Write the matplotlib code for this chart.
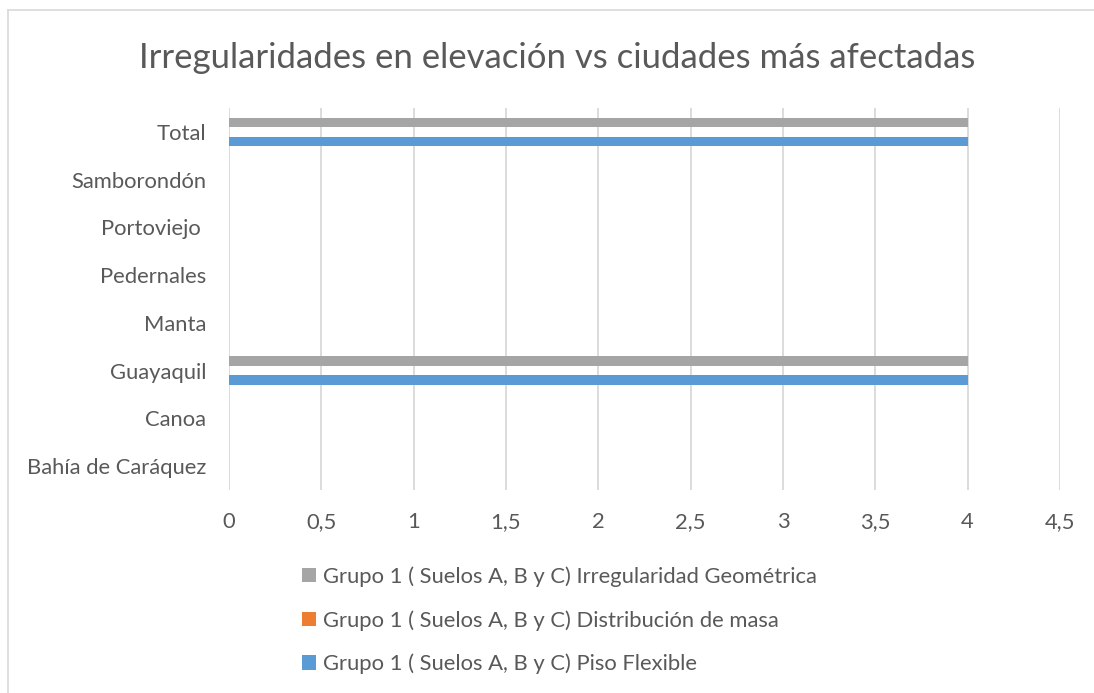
import matplotlib.pyplot as plt
import numpy as np
from matplotlib.patches import Patch

# Ciudades (de abajo hacia arriba) y valores por serie
ciudades = ['Bahía de Caráquez', 'Canoa', 'Guayaquil', 'Manta',
            'Pedernales', 'Portoviejo ', 'Samborondón', 'Total']
piso_flexible = [0, 0, 4, 0, 0, 0, 0, 4]
distribucion_masa = [0, 0, 0, 0, 0, 0, 0, 0]
irregularidad_geom = [0, 0, 4, 0, 0, 0, 0, 4]

series = ['Grupo 1 ( Suelos A, B y C) Piso Flexible',
          'Grupo 1 ( Suelos A, B y C) Distribución de masa',
          'Grupo 1 ( Suelos A, B y C) Irregularidad Geométrica']
colores = ['#5b9bd5', '#ed7d31', '#a5a5a5']
ticks_x = [0, 0.5, 1, 1.5, 2, 2.5, 3, 3.5, 4, 4.5]

plt.rcParams['font.family'] = ['Lato', 'DejaVu Sans']
texto = '#595959'

fig = plt.figure(figsize=(10.94, 6.93), dpi=100)
ax = fig.add_axes([0.2093, 0.2929, 0.7596, 0.5512])

y = np.arange(len(ciudades))
alto = 0.2
for i, (vals, nombre, c) in enumerate(zip([piso_flexible, distribucion_masa, irregularidad_geom], series, colores)):
    ax.barh(y + (i - 1) * alto, vals, height=alto, color=c, label=nombre, zorder=3)

ax.set_xlim(0, 4.5)
ax.set_ylim(-0.5, len(ciudades) - 0.5)
ax.set_yticks(y)
ax.set_yticklabels(ciudades, fontsize=15.8, color=texto)
ax.set_xticks(ticks_x)
ax.set_xticklabels([f'{t:g}'.replace('.', ',') for t in ticks_x], fontsize=15.8, color=texto)
ax.tick_params(length=0)
ax.tick_params(axis='y', pad=16.5)
ax.tick_params(axis='x', pad=16)
ax.grid(axis='x', color='#d9d9d9', linewidth=1.3, zorder=0)
for s in ax.spines.values():
    s.set_visible(False)

fig.suptitle('Irregularidades en elevación vs ciudades más afectadas',
             x=0.509, y=0.94, fontsize=25, color=texto)

# Leyenda vertical bajo el grafico (gris arriba, azul abajo)
handles = [Patch(facecolor=colores[k], edgecolor='none') for k in (2, 1, 0)]
labels = [series[k] for k in (2, 1, 0)]
fig.legend(handles, labels, loc='upper left', bbox_to_anchor=(0.276, 0.183),
           frameon=False, fontsize=15.8, labelcolor=texto, handlelength=0.65,
           handleheight=0.65, handletextpad=0.3, labelspacing=1.06,
           borderaxespad=0, borderpad=0)

# Marco del area del grafico
fig.add_artist(plt.Line2D([0.0073, 0.0073], [0, 0.986], color='#d9d9d9', lw=1.2))
fig.add_artist(plt.Line2D([0.0073, 1], [0.986, 0.986], color='#d9d9d9', lw=1.2))

fig.savefig('out.png', dpi=100)
